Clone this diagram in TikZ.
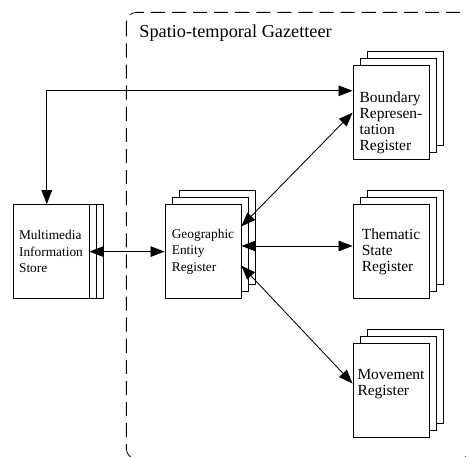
\documentclass[tikz,border=0pt]{standalone}
\usepackage{fontspec}
\setmainfont{Liberation Serif}
\usetikzlibrary{positioning,shadows,arrows.meta}

\tikzset{
  page/.style={draw=black,fill=white,line width=0.6pt,
    minimum width=1.9cm,minimum height=2.35cm,inner sep=2pt,
    align=left,anchor=center,font=\fontsize{9.5}{11.6}\selectfont},
  register/.style={page,double copy shadow={shadow xshift=5pt,shadow yshift=5pt}},
  store/.style={page,double copy shadow={shadow xshift=5pt,shadow yshift=0pt}},
  big text/.style={font=\fontsize{11}{11.4}\selectfont},
}

\begin{document}
\begin{tikzpicture}[<->,>={Triangle[length=10pt,width=7.5pt]},line width=0.6pt,on grid]
\useasboundingbox (0,0) rectangle (11.65,-11.425);

\draw[-,dash pattern=on 10pt off 5pt,rounded corners=0.25cm]
  (3.16,-0.31) rectangle (11.75,-11.47);
\node (title) [anchor=base west,inner sep=0pt,font=\fontsize{13}{15}\selectfont] at (3.475,-0.94) {Spatio-temporal Gazetteer};

\node (ger) [register] at (5.075,-6.29) {Geographic\\Entity\\Register};
\node (mis) [store,left=3.8cm of ger] {Multimedia\\Information\\Store};
\node (tsr) [register,big text,right=4.7cm of ger] {Thematic\\State\\Register};
\node (brr) [register,big text,above=3.475cm of tsr] {\rule{0pt}{22pt}Boundary\\Represen-\\tation\\Register};
\node (mr)  [register,big text,below=3.475cm of tsr] {Movement\\Register\\\mbox{}};

  \path (mis)                     edge (ger)
        ([yshift=4pt]ger.east)    edge ([yshift=4pt]tsr.west)
        ([yshift=18pt]ger.east)   edge (brr.west)
        ([yshift=-10pt]ger.east)  edge ([yshift=5pt]mr.west)
        ([yshift=15.5pt]brr.west) edge [to path={-| (\tikztotarget)}] ([xshift=-3pt]mis.north);

\end{tikzpicture}
\end{document}
